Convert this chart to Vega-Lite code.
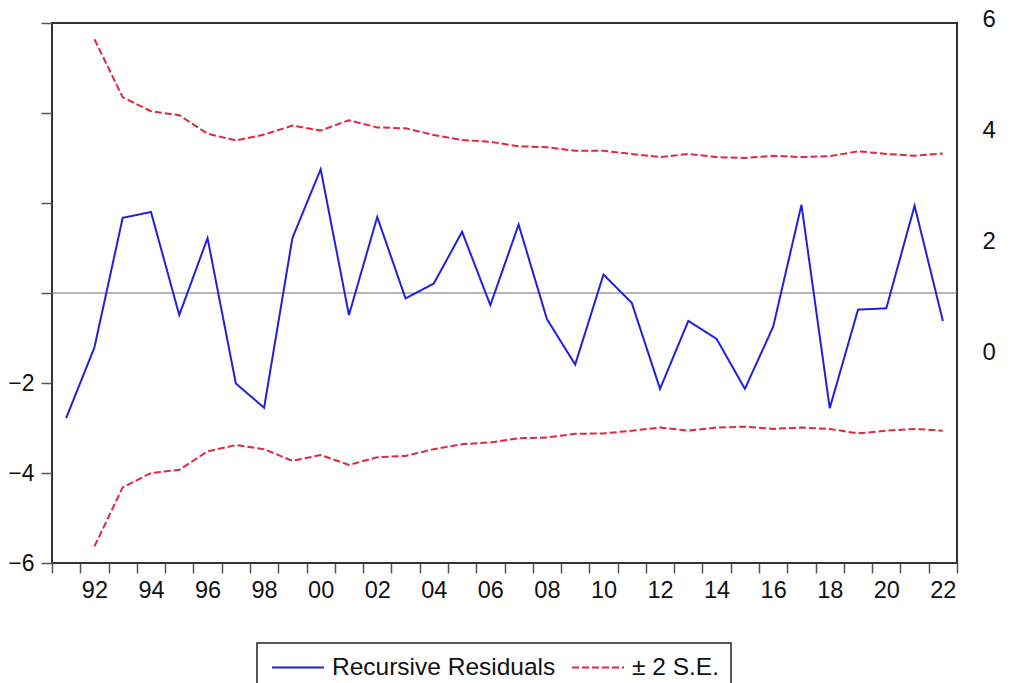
{
  "$schema": "https://vega.github.io/schema/vega-lite/v6.json",
  "width": 905,
  "height": 540,
  "autosize": {"type": "none"},
  "padding": {"left": 52, "top": 23, "right": 53, "bottom": 120},
  "background": "white",
  "config": {
    "view": {"stroke": "#333333", "strokeWidth": 2},
    "font": "Liberation Sans",
    "axis": {"labelFont": "Liberation Sans", "labelColor": "#111111", "grid": false},
    "legend": {
      "orient": "none",
      "legendX": 205,
      "legendY": 620,
      "direction": "horizontal",
      "strokeColor": "#222222",
      "strokeWidth": 1.5,
      "padding": 12,
      "symbolType": "M-2.26,0H2.26",
      "symbolSize": 529,
      "symbolStrokeWidth": 2,
      "symbolOffset": 16.5,
      "labelFont": "Liberation Sans",
      "labelFontSize": 24.5,
      "labelColor": "#111111",
      "labelOffset": 21.5,
      "labelLimit": 400,
      "columnPadding": 12
    }
  },
  "data": {
    "values": [
      {"year": 1991, "value": -2.78, "series": "Recursive Residuals", "part": "res"},
      {"year": 1992, "value": -1.21, "series": "Recursive Residuals", "part": "res"},
      {"year": 1993, "value": 1.67, "series": "Recursive Residuals", "part": "res"},
      {"year": 1994, "value": 1.80, "series": "Recursive Residuals", "part": "res"},
      {"year": 1995, "value": -0.49, "series": "Recursive Residuals", "part": "res"},
      {"year": 1996, "value": 1.22, "series": "Recursive Residuals", "part": "res"},
      {"year": 1997, "value": -2.01, "series": "Recursive Residuals", "part": "res"},
      {"year": 1998, "value": -2.55, "series": "Recursive Residuals", "part": "res"},
      {"year": 1999, "value": 1.22, "series": "Recursive Residuals", "part": "res"},
      {"year": 2000, "value": 2.75, "series": "Recursive Residuals", "part": "res"},
      {"year": 2001, "value": -0.49, "series": "Recursive Residuals", "part": "res"},
      {"year": 2002, "value": 1.69, "series": "Recursive Residuals", "part": "res"},
      {"year": 2003, "value": -0.12, "series": "Recursive Residuals", "part": "res"},
      {"year": 2004, "value": 0.21, "series": "Recursive Residuals", "part": "res"},
      {"year": 2005, "value": 1.36, "series": "Recursive Residuals", "part": "res"},
      {"year": 2006, "value": -0.27, "series": "Recursive Residuals", "part": "res"},
      {"year": 2007, "value": 1.52, "series": "Recursive Residuals", "part": "res"},
      {"year": 2008, "value": -0.58, "series": "Recursive Residuals", "part": "res"},
      {"year": 2009, "value": -1.59, "series": "Recursive Residuals", "part": "res"},
      {"year": 2010, "value": 0.41, "series": "Recursive Residuals", "part": "res"},
      {"year": 2011, "value": -0.22, "series": "Recursive Residuals", "part": "res"},
      {"year": 2012, "value": -2.13, "series": "Recursive Residuals", "part": "res"},
      {"year": 2013, "value": -0.62, "series": "Recursive Residuals", "part": "res"},
      {"year": 2014, "value": -1.02, "series": "Recursive Residuals", "part": "res"},
      {"year": 2015, "value": -2.13, "series": "Recursive Residuals", "part": "res"},
      {"year": 2016, "value": -0.75, "series": "Recursive Residuals", "part": "res"},
      {"year": 2017, "value": 1.96, "series": "Recursive Residuals", "part": "res"},
      {"year": 2018, "value": -2.56, "series": "Recursive Residuals", "part": "res"},
      {"year": 2019, "value": -0.37, "series": "Recursive Residuals", "part": "res"},
      {"year": 2020, "value": -0.34, "series": "Recursive Residuals", "part": "res"},
      {"year": 2021, "value": 1.94, "series": "Recursive Residuals", "part": "res"},
      {"year": 2022, "value": -0.62, "series": "Recursive Residuals", "part": "res"},
      {"year": 1992, "value": 5.64, "series": "± 2 S.E.", "part": "upper"},
      {"year": 1993, "value": 4.35, "series": "± 2 S.E.", "part": "upper"},
      {"year": 1994, "value": 4.04, "series": "± 2 S.E.", "part": "upper"},
      {"year": 1995, "value": 3.95, "series": "± 2 S.E.", "part": "upper"},
      {"year": 1996, "value": 3.54, "series": "± 2 S.E.", "part": "upper"},
      {"year": 1997, "value": 3.39, "series": "± 2 S.E.", "part": "upper"},
      {"year": 1998, "value": 3.52, "series": "± 2 S.E.", "part": "upper"},
      {"year": 1999, "value": 3.72, "series": "± 2 S.E.", "part": "upper"},
      {"year": 2000, "value": 3.61, "series": "± 2 S.E.", "part": "upper"},
      {"year": 2001, "value": 3.84, "series": "± 2 S.E.", "part": "upper"},
      {"year": 2002, "value": 3.68, "series": "± 2 S.E.", "part": "upper"},
      {"year": 2003, "value": 3.66, "series": "± 2 S.E.", "part": "upper"},
      {"year": 2004, "value": 3.51, "series": "± 2 S.E.", "part": "upper"},
      {"year": 2005, "value": 3.40, "series": "± 2 S.E.", "part": "upper"},
      {"year": 2006, "value": 3.36, "series": "± 2 S.E.", "part": "upper"},
      {"year": 2007, "value": 3.26, "series": "± 2 S.E.", "part": "upper"},
      {"year": 2008, "value": 3.24, "series": "± 2 S.E.", "part": "upper"},
      {"year": 2009, "value": 3.16, "series": "± 2 S.E.", "part": "upper"},
      {"year": 2010, "value": 3.16, "series": "± 2 S.E.", "part": "upper"},
      {"year": 2011, "value": 3.09, "series": "± 2 S.E.", "part": "upper"},
      {"year": 2012, "value": 3.02, "series": "± 2 S.E.", "part": "upper"},
      {"year": 2013, "value": 3.09, "series": "± 2 S.E.", "part": "upper"},
      {"year": 2014, "value": 3.02, "series": "± 2 S.E.", "part": "upper"},
      {"year": 2015, "value": 3.00, "series": "± 2 S.E.", "part": "upper"},
      {"year": 2016, "value": 3.05, "series": "± 2 S.E.", "part": "upper"},
      {"year": 2017, "value": 3.02, "series": "± 2 S.E.", "part": "upper"},
      {"year": 2018, "value": 3.04, "series": "± 2 S.E.", "part": "upper"},
      {"year": 2019, "value": 3.15, "series": "± 2 S.E.", "part": "upper"},
      {"year": 2020, "value": 3.09, "series": "± 2 S.E.", "part": "upper"},
      {"year": 2021, "value": 3.05, "series": "± 2 S.E.", "part": "upper"},
      {"year": 2022, "value": 3.10, "series": "± 2 S.E.", "part": "upper"},
      {"year": 1992, "value": -5.63, "series": "± 2 S.E.", "part": "lower"},
      {"year": 1993, "value": -4.32, "series": "± 2 S.E.", "part": "lower"},
      {"year": 1994, "value": -4.00, "series": "± 2 S.E.", "part": "lower"},
      {"year": 1995, "value": -3.93, "series": "± 2 S.E.", "part": "lower"},
      {"year": 1996, "value": -3.52, "series": "± 2 S.E.", "part": "lower"},
      {"year": 1997, "value": -3.38, "series": "± 2 S.E.", "part": "lower"},
      {"year": 1998, "value": -3.47, "series": "± 2 S.E.", "part": "lower"},
      {"year": 1999, "value": -3.73, "series": "± 2 S.E.", "part": "lower"},
      {"year": 2000, "value": -3.60, "series": "± 2 S.E.", "part": "lower"},
      {"year": 2001, "value": -3.82, "series": "± 2 S.E.", "part": "lower"},
      {"year": 2002, "value": -3.65, "series": "± 2 S.E.", "part": "lower"},
      {"year": 2003, "value": -3.62, "series": "± 2 S.E.", "part": "lower"},
      {"year": 2004, "value": -3.47, "series": "± 2 S.E.", "part": "lower"},
      {"year": 2005, "value": -3.36, "series": "± 2 S.E.", "part": "lower"},
      {"year": 2006, "value": -3.32, "series": "± 2 S.E.", "part": "lower"},
      {"year": 2007, "value": -3.23, "series": "± 2 S.E.", "part": "lower"},
      {"year": 2008, "value": -3.21, "series": "± 2 S.E.", "part": "lower"},
      {"year": 2009, "value": -3.13, "series": "± 2 S.E.", "part": "lower"},
      {"year": 2010, "value": -3.12, "series": "± 2 S.E.", "part": "lower"},
      {"year": 2011, "value": -3.06, "series": "± 2 S.E.", "part": "lower"},
      {"year": 2012, "value": -2.99, "series": "± 2 S.E.", "part": "lower"},
      {"year": 2013, "value": -3.06, "series": "± 2 S.E.", "part": "lower"},
      {"year": 2014, "value": -2.99, "series": "± 2 S.E.", "part": "lower"},
      {"year": 2015, "value": -2.97, "series": "± 2 S.E.", "part": "lower"},
      {"year": 2016, "value": -3.02, "series": "± 2 S.E.", "part": "lower"},
      {"year": 2017, "value": -2.99, "series": "± 2 S.E.", "part": "lower"},
      {"year": 2018, "value": -3.02, "series": "± 2 S.E.", "part": "lower"},
      {"year": 2019, "value": -3.12, "series": "± 2 S.E.", "part": "lower"},
      {"year": 2020, "value": -3.06, "series": "± 2 S.E.", "part": "lower"},
      {"year": 2021, "value": -3.02, "series": "± 2 S.E.", "part": "lower"},
      {"year": 2022, "value": -3.06, "series": "± 2 S.E.", "part": "lower"}
    ]
  },
  "layer": [
    {
      "layer": [
        {
          "data": {"values": [{"value": 0}]},
          "mark": {"type": "rule", "color": "#6e6e6e", "strokeWidth": 1},
          "encoding": {
            "y": {
              "field": "value", "type": "quantitative",
              "scale": {"domain": [-6, 6], "nice": false, "zero": false},
              "axis": {
                "title": null,
                "domain": false,
                "values": [-6, -4, -2, 0, 2, 4, 6],
                "labelExpr": "datum.value < 0 ? datum.label : ''",
                "labelFontSize": 23,
                "labelPadding": 7,
                "tickSize": 11,
                "tickColor": "#555555",
                "tickWidth": 1.5
              }
            }
          }
        },
        {
          "mark": {"type": "line", "strokeWidth": 2, "clip": true},
          "encoding": {
            "x": {
              "field": "year", "type": "quantitative",
              "scale": {"domain": [1990.5, 2022.5], "nice": false, "zero": false},
              "axis": {
                "title": null,
                "domain": false,
                "values": [1990.5, 1991.5, 1992.5, 1993.5, 1994.5, 1995.5, 1996.5, 1997.5, 1998.5, 1999.5, 2000.5, 2001.5, 2002.5, 2003.5, 2004.5, 2005.5, 2006.5, 2007.5, 2008.5, 2009.5, 2010.5, 2011.5, 2012.5, 2013.5, 2014.5, 2015.5, 2016.5, 2017.5, 2018.5, 2019.5, 2020.5, 2021.5, 2022.5],
                "labelExpr": "(datum.value + 0.5) % 2 == 0 ? slice(toString(datum.value + 0.5), 2) : ''",
                "labelOffset": 14.1,
                "labelFlush": false,
                "labelOverlap": false,
                "labelFontSize": 23.5,
                "labelPadding": 5,
                "tickSize": 10,
                "tickColor": "#555555",
                "tickWidth": 1.5
              }
            },
            "y": {
              "field": "value", "type": "quantitative",
              "scale": {"domain": [-6, 6], "nice": false, "zero": false},
              "axis": {
                "title": null,
                "domain": false,
                "values": [-6, -4, -2, 0, 2, 4, 6],
                "labelExpr": "datum.value < 0 ? datum.label : ''",
                "labelFontSize": 23,
                "labelPadding": 7,
                "tickSize": 11,
                "tickColor": "#555555",
                "tickWidth": 1.5
              }
            },
            "detail": {"field": "part"},
            "color": {
              "field": "series", "type": "nominal",
              "scale": {"domain": ["Recursive Residuals", "± 2 S.E."], "range": ["#2020e0", "#e0283f"]},
              "legend": {"title": null}
            },
            "strokeDash": {
              "field": "series", "type": "nominal",
              "scale": {"domain": ["Recursive Residuals", "± 2 S.E."], "range": [[1, 0], [7, 3]]},
              "legend": {"title": null}
            }
          }
        }
      ]
    },
    {
      "data": {"values": [{"tick": 0}, {"tick": 2}, {"tick": 4}, {"tick": 6}]},
      "mark": {"type": "rule", "opacity": 0},
      "encoding": {
        "y": {
          "field": "tick", "type": "quantitative",
          "scale": {"domain": [-3.71, 6.02], "nice": false, "zero": false},
          "axis": {
            "orient": "right",
            "title": null,
            "domain": false,
            "ticks": false,
            "values": [0, 2, 4, 6],
            "labelFontSize": 24,
            "labelPadding": 25,
            "labelOffset": -4.6,
            "labelColor": "#111111"
          }
        }
      }
    }
  ],
  "resolve": {"scale": {"y": "independent"}, "axis": {"y": "independent"}}
}
